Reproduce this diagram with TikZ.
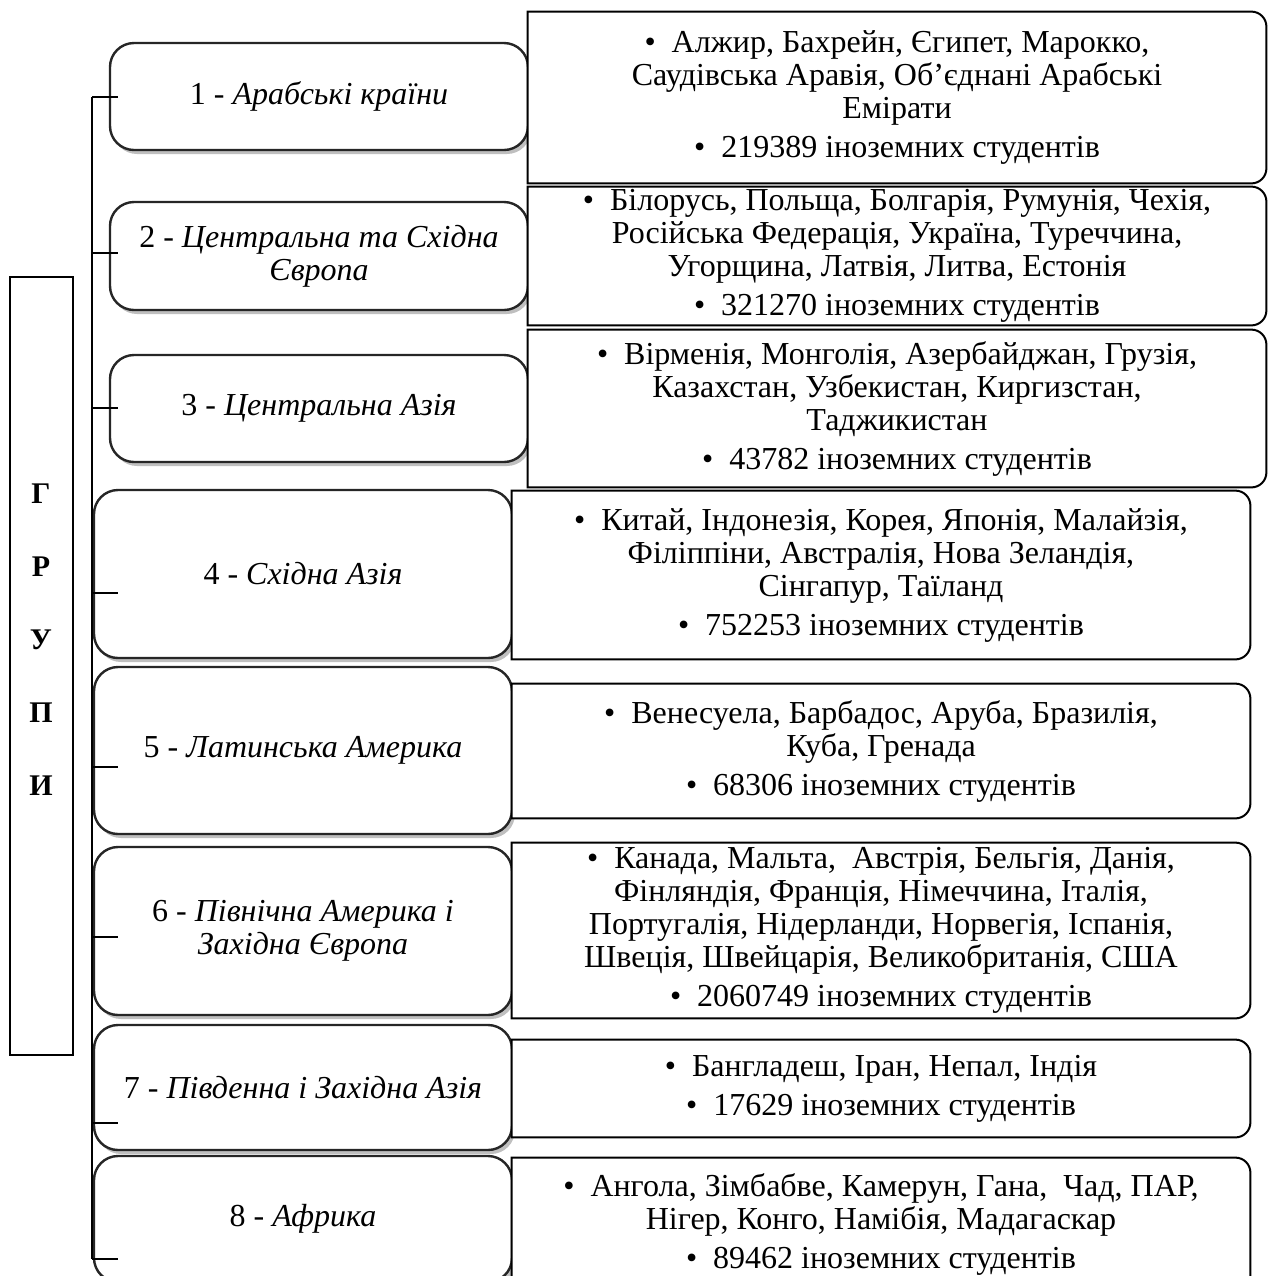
\documentclass[tikz,border=0pt]{standalone}
\usepackage{fontspec}
\setmainfont{Liberation Serif}
\usetikzlibrary{shadows}
\begin{document}
\begin{tikzpicture}[x=0.5pt,y=0.5pt,
 gbox/.style={draw=black!85, line width=1.2pt, rounded corners=12pt, fill=white,
   drop shadow={shadow xshift=1.5pt, shadow yshift=-2pt, opacity=0.25, fill=black},
   minimum width=209pt, inner sep=0pt, align=center, font=\fontsize{16}{16.5}\selectfont},
 rbox/.style={fill=white, minimum width=369pt, inner sep=0pt, align=center, font=\fontsize{16}{16.5}\selectfont},
 rline/.style={draw=black, line width=1pt},
 conn/.style={draw=black, line width=1pt},
]
\useasboundingbox (0,0) rectangle (1272,-1276);
\clip (0,0) rectangle (1272,-1276);

% group label box
\node[draw=black, line width=0.6pt, minimum width=31.5pt, minimum height=389pt, inner sep=0pt] (grp) at (41.5,-666) {};
\node[font=\fontsize{15}{36.5}\selectfont\bfseries, align=center, inner sep=0pt] (lab) at (41,-640) {Г\\Р\\У\\П\\И};

% group boxes
\node[gbox, minimum height=53.5pt] (g1) at (319,-96.5) {1 - \textit{Арабські країни}};
\node[gbox, minimum height=54pt] (g2) at (319,-256) {2 - \textit{Центральна та Східна}\\\textit{Європа}};
\node[gbox, minimum height=53.5pt] (g3) at (319,-408.5) {3 - \textit{Центральна Азія}};
\node[gbox, minimum height=84pt] (g4) at (303,-574) {4 - \textit{Східна Азія}};
\node[gbox, minimum height=83.5pt] (g5) at (303,-750.5) {5 - \textit{Латинська Америка}};
\node[gbox, minimum height=84pt] (g6) at (303,-931) {6 - \textit{Північна Америка і}\\\textit{Західна Європа}};
\node[gbox, minimum height=62.5pt] (g7) at (303,-1087.5) {7 - \textit{Південна і Західна Азія}};
\node[gbox, minimum height=63pt] (g8) at (303,-1219) {8 - \textit{Африка}};

% right boxes
\node[rbox, minimum height=85.5pt] (r1) at (897,-97.5) {•\ \ Алжир, Бахрейн, Єгипет, Марокко,\\Саудівська Аравія, Об’єднані Арабські\\Емірати\\[3pt]•\ \ 219389 іноземних студентів};
\node[rbox, minimum height=69pt] (r2) at (897,-256) {•\ \ Білорусь, Польща, Болгарія, Румунія, Чехія,\\Російська Федерація, Україна, Туреччина,\\Угорщина, Латвія, Литва, Естонія\\[3pt]•\ \ 321270 іноземних студентів};
\node[rbox, minimum height=78.5pt] (r3) at (897,-408.5) {•\ \ Вірменія, Монголія, Азербайджан, Грузія,\\Казахстан, Узбекистан, Киргизстан,\\Таджикистан\\[3pt]•\ \ 43782 іноземних студентів};
\node[rbox, minimum height=84pt] (r4) at (881,-575) {•\ \ Китай, Індонезія, Корея, Японія, Малайзія,\\Філіппіни, Австралія, Нова Зеландія,\\Сінгапур, Таїланд\\[3pt]•\ \ 752253 іноземних студентів};
\node[rbox, minimum height=67pt] (r5) at (881,-751) {•\ \ Венесуела, Барбадос, Аруба, Бразилія,\\Куба, Гренада\\[3pt]•\ \ 68306 іноземних студентів};
\node[rbox, minimum height=87.5pt] (r6) at (881,-930.5) {•\ \ Канада, Мальта,\ \ Австрія, Бельгія, Данія,\\Фінляндія, Франція, Німеччина, Італія,\\Португалія, Нідерланди, Норвегія, Іспанія,\\Швеція, Швейцарія, Великобританія, США\\[3pt]•\ \ 2060749 іноземних студентів};
\node[rbox, minimum height=48.5pt] (r7) at (881,-1088.5) {•\ \ Бангладеш, Іран, Непал, Індія\\[3pt]•\ \ 17629 іноземних студентів};
\node[rbox, minimum height=66pt] (r8) at (881,-1224) {•\ \ Ангола, Зімбабве, Камерун, Гана,\ \ Чад, ПАР,\\Нігер, Конго, Намібія, Мадагаскар\\[3pt]•\ \ 89462 іноземних студентів};

\foreach \r in {r1,r2,r3,r4,r5,r6,r7,r8}{
  \draw[rline] (\r.north west) -- ([xshift=-7.5pt]\r.north east) arc[start angle=90,end angle=0,radius=7.5pt]
    -- ([yshift=7.5pt]\r.south east) arc[start angle=0,end angle=-90,radius=7.5pt] -- (\r.south west) -- cycle;
}

% trunk and ticks
\coordinate (t1) at (92,-97);
\coordinate (t2) at (92,-253);
\coordinate (t3) at (92,-408);
\coordinate (t4) at (92,-593);
\coordinate (t5) at (92,-767);
\coordinate (t6) at (92,-937);
\coordinate (t7) at (92,-1123);
\coordinate (t8) at (92,-1259);
\draw[conn] (t1) -- (t8);
\foreach \i in {1,...,8}{
  \coordinate (e\i) at ([xshift=13pt]t\i);
  \draw[conn] (t\i) -- (e\i);
}
\end{tikzpicture}
\end{document}
